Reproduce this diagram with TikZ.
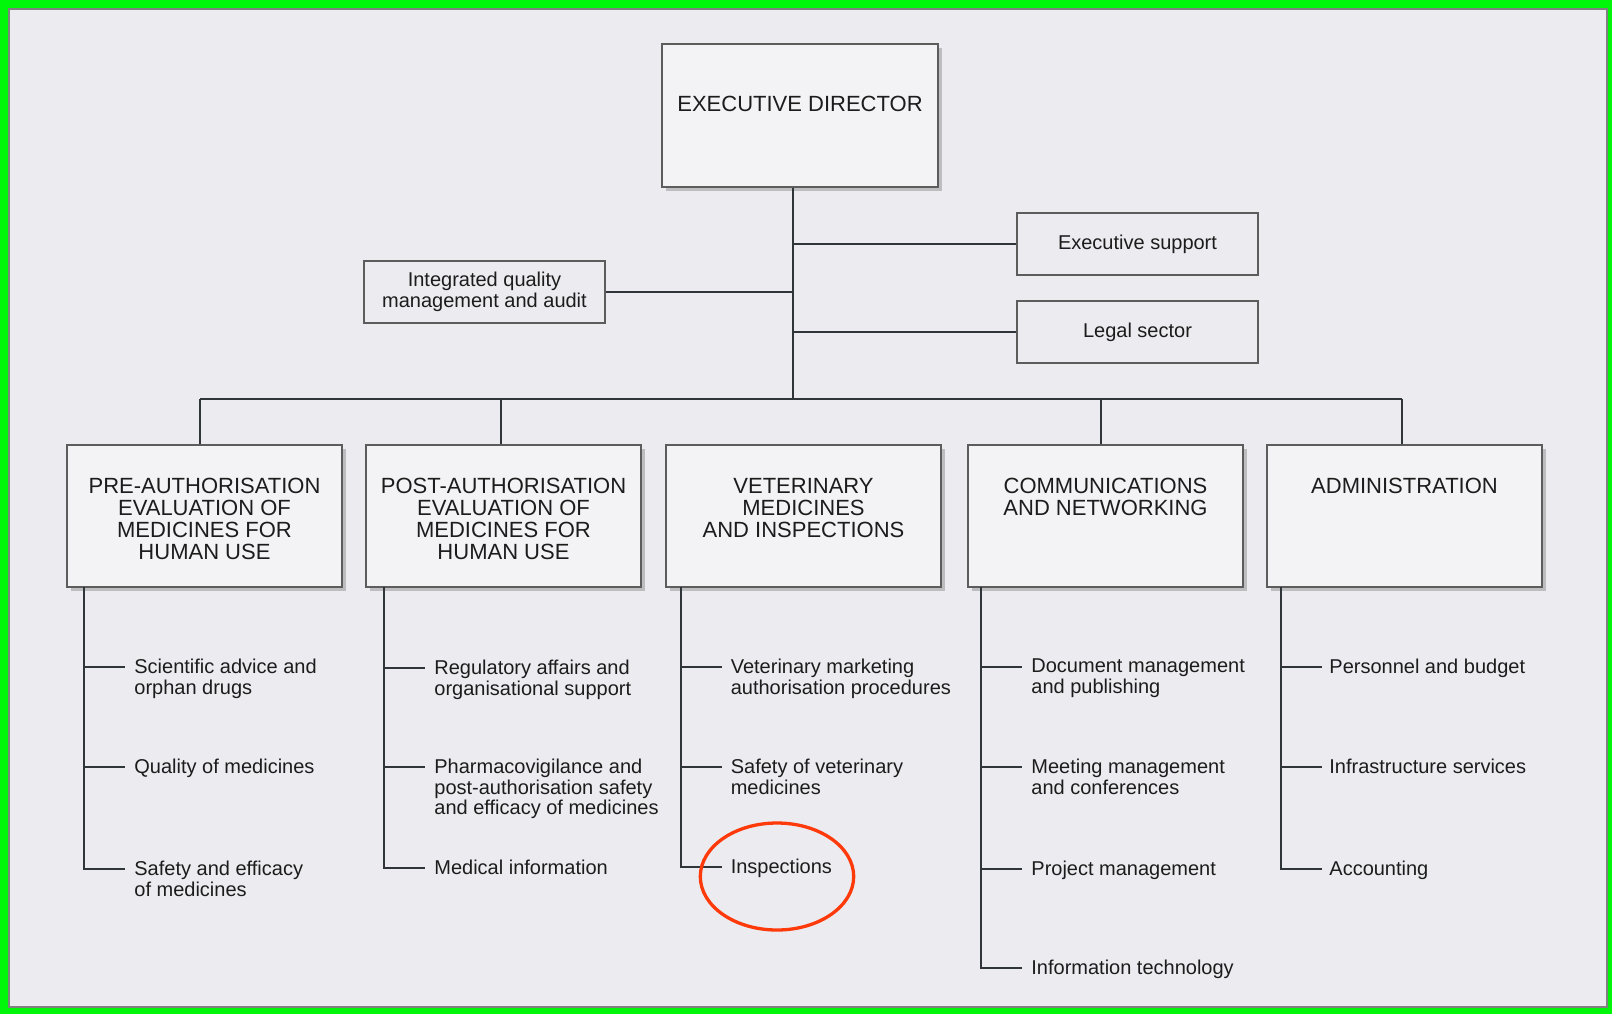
\documentclass[tikz,border=0pt]{standalone}
\usepackage{fontspec}
\setmainfont{Liberation Sans}
\usetikzlibrary{shapes.geometric,shadows}
\definecolor{bg}{HTML}{ECEBF0}
\definecolor{boxfill}{HTML}{F3F3F5}
\definecolor{boxline}{HTML}{5C5C5C}
\definecolor{conncol}{HTML}{30353A}
\definecolor{txt}{HTML}{1C1C1C}
\definecolor{framegreen}{HTML}{00F70A}
\definecolor{ringred}{HTML}{FF3A0A}
\begin{document}
\begin{tikzpicture}[x=0.5pt,y=-0.5pt,
  bigbox/.style={draw=boxline, line width=1pt, fill=boxfill,
    drop shadow={shadow xshift=1.8pt, shadow yshift=-1.8pt, opacity=0.35, fill=black!60},
    inner sep=0pt, minimum width=137.5pt, minimum height=71pt},
  bigtext/.style={inner sep=0pt, align=center, text=txt, font=\fontsize{11}{11}\selectfont},
  smallbox/.style={draw=boxline, line width=0.9pt, inner sep=0pt, minimum width=120.5pt,
    minimum height=31pt, align=center, text=txt, font=\fontsize{10}{10.25}\selectfont},
  item/.style={inner sep=0pt, align=left, anchor=north west, text=txt,
    font=\fontsize{10}{10.25}\selectfont},
  conn/.style={draw=conncol, line width=1pt},
  ring/.style={ellipse, draw=ringred, line width=1.65pt, inner sep=0pt,
    minimum width=76.7pt, minimum height=53.5pt}
]
\useasboundingbox (0,0) rectangle (1612,1014);
% frame
\fill[framegreen] (0,0) rectangle (1612,1014);
\fill[bg] (8,8) rectangle (1608,1008);
\draw[black!50, line width=0.9pt] (9,9) rectangle (1607,1007);

% executive director
\node[bigbox, minimum width=138pt, minimum height=71.5pt] (ed) at (800,115.5) {};
\node[bigtext] (edt) at (800,104) {EXECUTIVE DIRECTOR};

% side boxes
\node[smallbox] (es) at (1137.5,244) {Executive support};
\node[smallbox] (ls) at (1137.5,332) {Legal sector};
\node[smallbox] (iq) at (484.5,292) {Integrated quality\\management and audit};

% division boxes
\node[bigbox] (d1) at (204.5,516) {};
\node[bigbox] (d2) at (503.5,516) {};
\node[bigbox] (d3) at (803.5,516) {};
\node[bigbox] (d4) at (1105.5,516) {};
\node[bigbox] (d5) at (1404.5,516) {};
\node[bigtext, anchor=north] (d1t) at (204.5,478) {PRE-AUTHORISATION\\EVALUATION OF\\MEDICINES FOR\\HUMAN USE};
\node[bigtext, anchor=north] (d2t) at (503.5,478) {POST-AUTHORISATION\\EVALUATION OF\\MEDICINES FOR\\HUMAN USE};
\node[bigtext, anchor=north] (d3t) at (803.5,478) {VETERINARY\\MEDICINES\\AND INSPECTIONS};
\node[bigtext, anchor=north] (d4t) at (1105.5,478) {COMMUNICATIONS\\AND NETWORKING};
\node[bigtext, anchor=north] (d5t) at (1404.5,478) {ADMINISTRATION};

% trunk and bus
\coordinate (tx) at (793,399);
\coordinate (b1) at (200,399);
\coordinate (b2) at (500.5,399);
\coordinate (b4) at (1101,399);
\coordinate (b5) at (1401.5,399);
\draw[conn] (ed.south -| tx) -- (tx);
\draw[conn] (es.west) -- (es.west -| tx);
\draw[conn] (ls.west) -- (ls.west -| tx);
\draw[conn] (iq.east) -- (iq.east -| tx);
\draw[conn] (b1) -- (b5);
\draw[conn] (b1) -- (b1 |- d1.north);
\draw[conn] (b2) -- (b2 |- d2.north);
\draw[conn] (b4) -- (b4 |- d4.north);
\draw[conn] (b5) -- (b5 |- d5.north);

% vertical stems
\coordinate (v1) at (84,587);
\coordinate (v2) at (384,587);
\coordinate (v3) at (681,587);
\coordinate (v4) at (981,587);
\coordinate (v5) at (1281,587);

% tick ends
\coordinate (k1a) at (125,667); \coordinate (k1b) at (125,767); \coordinate (k1c) at (125,869);
\coordinate (k2a) at (425,668); \coordinate (k2b) at (425,767); \coordinate (k2c) at (425,868);
\coordinate (k3a) at (722,667); \coordinate (k3b) at (722,767); \coordinate (k3c) at (722,867);
\coordinate (k4a) at (1022,667); \coordinate (k4b) at (1022,767); \coordinate (k4c) at (1022,869); \coordinate (k4d) at (1022,968);
\coordinate (k5a) at (1322,667); \coordinate (k5b) at (1322,767); \coordinate (k5c) at (1322,869);

\draw[conn] (v1) |- (k1c); \draw[conn] (k1a -| v1) -- (k1a); \draw[conn] (k1b -| v1) -- (k1b);
\draw[conn] (v2) |- (k2c); \draw[conn] (k2a -| v2) -- (k2a); \draw[conn] (k2b -| v2) -- (k2b);
\draw[conn] (v3) |- (k3c); \draw[conn] (k3a -| v3) -- (k3a); \draw[conn] (k3b -| v3) -- (k3b);
\draw[conn] (v4) |- (k4d); \draw[conn] (k4a -| v4) -- (k4a); \draw[conn] (k4b -| v4) -- (k4b); \draw[conn] (k4c -| v4) -- (k4c);
\draw[conn] (v5) |- (k5c); \draw[conn] (k5a -| v5) -- (k5a); \draw[conn] (k5b -| v5) -- (k5b);

% item texts
\node[item] (t1a) at ([xshift=4.5pt,yshift=4.15pt]k1a) {Scientific advice and\\orphan drugs};
\node[item] (t1b) at ([xshift=4.5pt,yshift=4.15pt]k1b) {Quality of medicines};
\node[item] (t1c) at ([xshift=4.5pt,yshift=4.15pt]k1c) {Safety and efficacy\\of medicines};
\node[item] (t2a) at ([xshift=4.5pt,yshift=4.15pt]k2a) {Regulatory affairs and\\organisational support};
\node[item] (t2b) at ([xshift=4.5pt,yshift=4.15pt]k2b) {Pharmacovigilance and\\post-authorisation safety\\and efficacy of medicines};
\node[item] (t2c) at ([xshift=4.5pt,yshift=4.15pt]k2c) {Medical information};
\node[item] (t3a) at ([xshift=4.2pt,yshift=4.15pt]k3a) {Veterinary marketing\\authorisation procedures};
\node[item] (t3b) at ([xshift=4.2pt,yshift=4.15pt]k3b) {Safety of veterinary\\medicines};
\node[item] (t3c) at ([xshift=4.2pt,yshift=4.15pt]k3c) {Inspections};
\node[item] (t4a) at ([xshift=4.5pt,yshift=4.15pt]k4a) {Document management\\and publishing};
\node[item] (t4b) at ([xshift=4.5pt,yshift=4.15pt]k4b) {Meeting management\\and conferences};
\node[item] (t4c) at ([xshift=4.5pt,yshift=4.15pt]k4c) {Project management};
\node[item] (t4d) at ([xshift=4.5pt,yshift=4.15pt]k4d) {Information technology};
\node[item] (t5a) at ([xshift=3.5pt,yshift=4.15pt]k5a) {Personnel and budget};
\node[item] (t5b) at ([xshift=3.5pt,yshift=4.15pt]k5b) {Infrastructure services};
\node[item] (t5c) at ([xshift=3.5pt,yshift=4.15pt]k5c) {Accounting};

% red highlight
\node[ring] (hl) at (777,876.5) {};
\end{tikzpicture}
\end{document}
